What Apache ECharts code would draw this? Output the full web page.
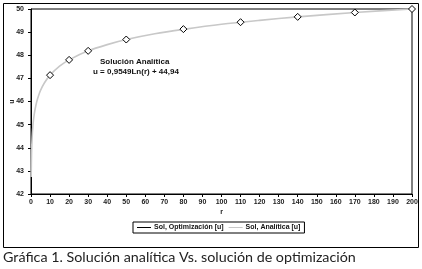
<!DOCTYPE html>
<html>
<head>
<meta charset="utf-8">
<script src="https://cdn.jsdelivr.net/npm/echarts@6/dist/echarts.min.js"></script>
<style>
  html, body { margin: 0; padding: 0; background: #fff; }
  #chart { width: 422px; height: 269px; }
</style>
</head>
<body>
<div id="chart"></div>
<script>
// puntos de la solución por optimización
const optR = [10, 20, 30, 50, 80, 110, 140, 170, 200];
const optU = [47.14, 47.80, 48.19, 48.68, 49.13, 49.43, 49.66, 49.85, 50.0];

// curva analítica
const anaR = [0.1, 0.3, 0.6, 1, 1.5, 2, 3, 4, 5, 7, 10, 15, 20, 30, 40, 50, 65, 80, 100, 120, 140, 170, 200];
const anaU = [42.74, 43.79, 44.45, 44.94, 45.33, 45.60, 45.99, 46.26, 46.48, 46.80, 47.14, 47.53, 47.80, 48.19, 48.46, 48.68, 48.93, 49.12, 49.34, 49.51, 49.66, 49.85, 50.0];

const xTicks = { min: 0, max: 200, interval: 10 };
const yTicks = { min: 42, max: 50, interval: 1 };

const myChart = echarts.init(document.getElementById("chart"));

const axisFont = { fontFamily: "Liberation Sans", fontWeight: "bold", fontSize: 7, color: "#222" };

const option = {
  animation: false,
  grid: {
    left: 31, right: 10, top: 9, bottom: 75,
    containLabel: false, outerBoundsMode: "none",
    show: true, borderColor: "#000", borderWidth: 1
  },
  xAxis: {
    type: "value",
    min: xTicks.min, max: xTicks.max, interval: xTicks.interval,
    name: "r", nameLocation: "middle", nameGap: 15, nameMoveOverlap: false,
    nameTextStyle: axisFont,
    axisLine: { lineStyle: { color: "#000" } },
    axisTick: { show: true, length: 3, lineStyle: { color: "#000" } },
    axisLabel: Object.assign({ margin: 5 }, axisFont),
    splitLine: { show: false }
  },
  yAxis: {
    type: "value",
    min: yTicks.min, max: yTicks.max, interval: yTicks.interval,
    name: "u", nameLocation: "middle", nameGap: 15, nameRotate: 90, nameMoveOverlap: false,
    nameTextStyle: axisFont,
    axisLine: { show: true, lineStyle: { color: "#000" } },
    axisTick: { show: true, length: 3, lineStyle: { color: "#000" } },
    axisLabel: Object.assign({ margin: 7 }, axisFont),
    splitLine: { show: false }
  },
  legend: {
    left: 133, top: 222,
    padding: [2, 4, 2, 4],
    itemGap: 5,
    itemWidth: 14, itemHeight: 1,
    borderColor: "#000", borderWidth: 1, borderRadius: 0,
    textStyle: { fontFamily: "Liberation Sans", fontWeight: "bold", fontSize: 7, color: "#111", padding: [0, 0, 0, -2] },
    data: [
      {
        name: "Sol, Optimización [u]", icon: "rect",
        itemStyle: { color: "#000", borderWidth: 0 },
        lineStyle: { width: 0, opacity: 0 }
      },
      {
        name: "Sol, Analítica [u]", icon: "rect",
        itemStyle: { color: "#c8c8c8", borderWidth: 0 },
        lineStyle: { width: 0, opacity: 0 }
      }
    ]
  },
  series: [
    {
      name: "Sol, Analítica [u]",
      type: "line",
      smooth: 0.3,
      symbol: "none",
      data: anaR.map((r, i) => [r, anaU[i]]),
      lineStyle: { color: "#c8c8c8", width: 1.6 },
      itemStyle: { color: "#cfcfcf" },
      z: 2
    },
    {
      name: "Sol, Optimización [u]",
      type: "line",
      symbol: "diamond",
      symbolSize: 7,
      data: optR.map((r, i) => [r, optU[i]]),
      lineStyle: { width: 0, opacity: 0 },
      itemStyle: { color: "#fff", borderColor: "#000", borderWidth: 1 },
      z: 3
    }
  ],
  graphic: [
    {
      type: "rect",
      shape: { x: 3.5, y: 3.5, width: 415, height: 244 },
      style: { fill: "none", stroke: "#000", lineWidth: 1 },
      silent: true, z: -1
    },
    {
      type: "text", left: 100, top: 58,
      style: { text: "Solución Analítica", font: "bold 8px 'Liberation Sans'", fill: "#111" }
    },
    {
      type: "text", left: 93, top: 68,
      style: { text: "u = 0,9549Ln(r) + 44,94", font: "bold 8px 'Liberation Sans'", fill: "#111" }
    },
    {
      type: "text", left: 3, top: 250,
      style: { text: "Gráfica 1. Solución analítica Vs. solución de optimización", font: "14.3px Lato", fill: "#222" }
    }
  ]
};

myChart.setOption(option, true);
</script>
</body>
</html>
